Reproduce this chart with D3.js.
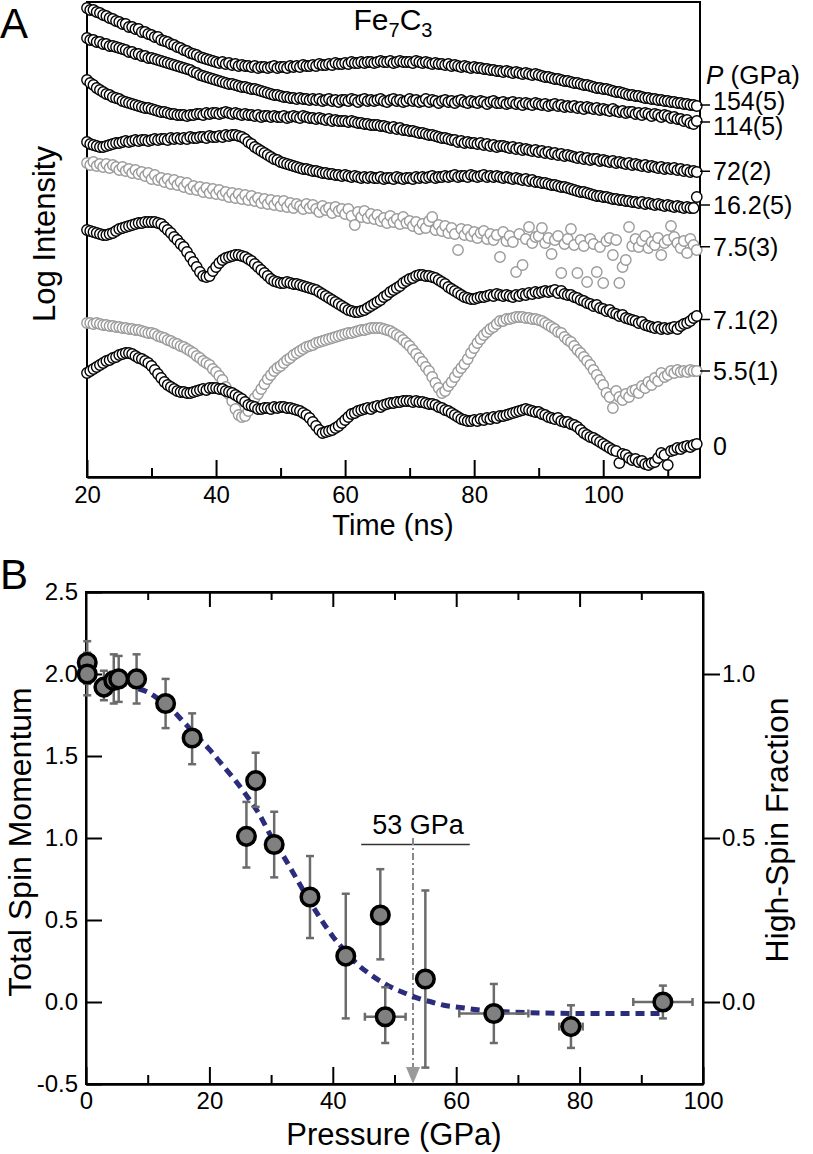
<!DOCTYPE html>
<html>
<head>
<meta charset="utf-8">
<script src="https://cdn.jsdelivr.net/npm/d3@7"></script>
<style>
body { margin: 0; background: #fff; }
svg { display: block; }
</style>
</head>
<body>
<script>
// ---- panel A : time spectra (log intensity, arbitrary offset units) ----
var times = d3.range(20, 114.75, 0.5);
var pressureLabels = ["154(5)", "114(5)", "72(2)", "16.2(5)", "7.5(3)", "7.1(2)", "5.5(1)", "0"];

var s154 = [46.9,46.7,46.7,46.5,46.4,46.2,46.1,45.9,45.8,45.6,
45.5,45.3,45.3,45.0,45.0,44.8,44.8,44.5,44.5,44.3,
44.2,44.0,44.0,43.7,43.6,43.5,43.3,43.2,43.0,42.9,
42.7,42.6,42.4,42.3,42.2,42.0,41.9,41.8,41.7,41.6,
41.5,41.4,41.5,41.3,41.4,41.2,41.3,41.1,41.2,41.1,
41.1,41.0,41.1,40.9,41.0,41.0,40.9,41.0,41.1,40.9,
41.0,41.0,40.9,41.1,41.0,41.1,41.0,41.2,41.1,41.1,
41.2,41.1,41.3,41.2,41.2,41.3,41.2,41.4,41.3,41.3,
41.4,41.3,41.5,41.4,41.4,41.5,41.4,41.5,41.5,41.4,
41.5,41.6,41.5,41.5,41.6,41.4,41.5,41.6,41.5,41.5,
41.5,41.4,41.6,41.5,41.4,41.5,41.4,41.3,41.4,41.3,
41.3,41.2,41.3,41.1,41.2,41.1,41.0,41.1,41.0,40.9,
41.0,40.9,40.9,40.8,40.8,40.7,40.7,40.6,40.6,40.5,
40.6,40.5,40.4,40.5,40.4,40.3,40.4,40.3,40.2,40.3,
40.2,40.1,40.0,40.0,39.9,39.8,39.8,39.7,39.6,39.6,
39.5,39.4,39.4,39.3,39.2,39.2,39.1,39.0,38.9,38.9,
38.8,38.8,38.7,38.6,38.5,38.5,38.4,38.3,38.2,38.2,
38.1,38.1,38.0,37.9,37.9,37.8,37.8,37.7,37.7,37.6,
37.6,37.5,37.5,37.4,37.4,37.3,37.3,37.2,37.2,37.1];

var s114 = [43.9,43.7,43.7,43.5,43.5,43.3,43.3,43.1,43.1,43.0,
42.9,42.8,42.7,42.5,42.5,42.3,42.3,42.1,42.1,41.9,
41.9,41.8,41.7,41.6,41.5,41.4,41.3,41.2,41.1,41.0,
40.9,40.8,40.7,40.5,40.4,40.2,40.1,40.0,39.9,39.8,
39.7,39.6,39.5,39.4,39.3,39.3,39.2,39.1,39.0,39.0,
38.9,38.8,38.8,38.7,38.6,38.5,38.4,38.3,38.2,38.2,
38.1,38.0,38.0,37.9,37.9,37.8,37.9,37.8,37.8,37.7,
37.8,37.7,37.8,37.6,37.7,37.8,37.6,37.7,37.5,37.7,
37.7,37.6,37.8,37.7,37.5,37.7,37.8,37.6,37.7,37.6,
37.7,37.8,37.6,37.5,37.7,37.8,37.6,37.7,37.5,37.6,
37.8,37.6,37.7,37.5,37.6,37.8,37.5,37.7,37.6,37.4,
37.6,37.7,37.5,37.6,37.4,37.6,37.7,37.5,37.4,37.6,
37.5,37.4,37.6,37.5,37.3,37.5,37.6,37.4,37.4,37.5,
37.3,37.4,37.5,37.3,37.4,37.2,37.4,37.3,37.2,37.4,
37.3,37.2,37.3,37.1,37.2,37.3,37.1,37.2,37.0,37.1,
37.0,37.1,36.9,37.0,36.8,37.0,36.9,36.8,36.9,36.7,
36.8,36.7,36.6,36.8,36.6,36.5,36.6,36.4,36.5,36.5,
36.3,36.4,36.2,36.4,36.3,36.1,36.3,36.2,36.0,36.2,
36.1,35.9,36.0,35.8,35.8,35.6,35.7,35.4,35.3,35.6];

var s72 = [39.7,39.4,39.2,38.9,38.7,38.5,38.3,38.2,38.0,37.9,
37.8,37.6,37.5,37.4,37.3,37.2,37.1,37.0,36.9,36.9,
36.8,36.7,36.6,36.5,36.5,36.4,36.3,36.3,36.2,36.2,
36.2,36.1,36.2,36.2,36.3,36.3,36.2,36.4,36.3,36.4,
36.4,36.3,36.4,36.5,36.4,36.3,36.4,36.3,36.2,36.3,
36.2,36.2,36.1,36.2,36.0,36.1,36.1,36.0,36.1,36.0,
36.0,36.1,35.9,36.0,36.1,36.0,35.9,36.1,36.0,35.9,
35.9,35.8,35.9,35.8,35.7,35.8,35.6,35.7,35.6,35.6,
35.6,35.5,35.6,35.5,35.4,35.4,35.3,35.3,35.2,35.2,
35.2,35.1,35.1,35.0,34.9,35.0,34.8,34.9,34.7,34.7,
34.6,34.6,34.5,34.4,34.4,34.3,34.2,34.2,34.1,34.0,
33.9,33.9,33.8,33.7,33.7,33.5,33.6,33.4,33.5,33.4,
33.4,33.3,33.4,33.2,33.3,33.1,33.2,33.0,33.1,33.1,
33.0,32.9,33.0,32.8,32.9,32.7,32.8,32.7,32.6,32.7,
32.5,32.6,32.4,32.5,32.3,32.4,32.2,32.3,32.1,32.2,
32.1,32.0,31.9,32.0,31.8,31.9,31.7,31.8,31.8,31.6,
31.7,31.6,31.5,31.6,31.4,31.5,31.4,31.3,31.4,31.2,
31.3,31.2,31.1,31.2,31.0,31.1,31.0,30.9,31.0,30.8,
30.9,30.8,30.9,30.7,30.8,30.6,30.7,30.5,30.6,30.5];

var s16 = [33.5,33.3,33.2,33.1,33.0,33.0,33.1,33.2,33.3,33.4,
33.4,33.5,33.6,33.5,33.6,33.7,33.6,33.7,33.7,33.6,
33.7,33.8,33.7,33.8,33.8,33.7,33.9,33.8,33.9,33.8,
33.9,33.8,34.0,33.9,33.9,34.0,34.0,33.9,34.1,34.0,
34.0,34.1,34.0,34.2,34.1,34.2,34.2,34.1,34.0,33.8,
33.5,33.3,33.0,32.8,32.6,32.4,32.2,32.0,31.8,31.7,
31.5,31.4,31.3,31.2,31.1,31.0,30.9,30.8,30.8,30.7,
30.6,30.6,30.5,30.4,30.4,30.3,30.3,30.2,30.2,30.1,
30.2,30.1,30.0,30.1,30.0,29.9,30.0,29.9,30.0,29.9,
29.9,30.0,29.8,29.9,29.9,29.8,30.0,29.9,29.8,29.9,
29.9,29.8,30.0,29.9,30.0,29.9,30.0,30.1,29.9,30.0,
30.0,30.1,30.0,30.1,30.2,30.0,30.1,30.1,30.0,30.2,
30.1,30.0,30.1,30.2,30.0,30.1,30.0,30.1,30.0,29.9,
30.0,29.9,29.8,29.9,29.8,29.7,29.8,29.6,29.7,29.5,
29.5,29.4,29.4,29.3,29.2,29.2,29.1,29.0,29.0,28.9,
28.8,28.7,28.6,28.5,28.5,28.4,28.3,28.2,28.1,28.1,
28.0,28.0,27.9,27.8,27.8,27.7,27.7,27.6,27.6,27.5,
27.5,27.4,27.5,27.3,27.4,27.3,27.2,27.3,27.2,27.1,
27.2,27.1,27.0,27.1,27.0,26.9,27.0,26.9,26.9,28.0];

var s75 = [31.4,31.2,31.5,31.1,31.3,31.0,31.3,30.9,31.2,31.0,
30.7,31.0,30.6,30.8,30.4,30.7,30.3,30.5,30.1,30.4,
29.8,30.2,29.7,29.9,29.5,29.8,29.3,29.7,29.2,29.5,
29.0,29.4,28.8,29.1,28.7,29.0,28.5,28.9,28.4,28.8,
28.3,28.7,28.2,28.5,28.0,28.4,27.9,28.3,27.8,28.2,
27.7,28.1,27.6,27.9,27.4,27.8,27.3,27.7,27.2,27.6,
27.1,27.6,27.0,27.4,26.9,27.3,27.1,26.8,27.3,26.9,
27.2,26.8,26.5,27.1,26.7,26.9,26.4,27.0,26.6,26.8,
26.3,26.8,26.1,25.2,26.5,26.0,26.6,25.9,26.3,25.8,
26.2,25.6,25.9,25.4,26.1,25.5,25.8,25.3,26.0,25.4,
25.6,25.1,25.5,24.8,25.3,24.9,25.6,26.0,24.7,25.2,
24.6,25.1,24.4,24.9,24.3,22.7,24.8,24.2,24.7,24.1,
24.5,23.9,24.4,24.6,23.8,24.3,23.7,24.2,22.0,24.5,
23.6,24.1,23.5,20.5,24.3,21.2,23.8,25.0,23.4,24.0,
24.1,24.9,23.4,23.9,22.3,23.7,24.1,20.4,23.3,23.8,
24.8,23.2,20.4,23.7,23.1,19.5,23.8,23.3,20.5,23.0,
19.4,23.6,23.9,22.2,23.7,19.4,21.0,21.7,25.0,23.1,
23.8,23.0,23.6,24.1,22.9,23.5,23.2,23.9,22.2,23.4,
23.7,25.1,24.0,23.4,22.9,23.6,22.4,23.8,23.2,22.7];

var s71 = [24.7,24.6,24.5,24.4,24.3,24.2,24.2,24.3,24.4,24.6,
24.8,24.9,25.0,25.1,25.2,25.3,25.4,25.4,25.5,25.5,
25.5,25.5,25.4,25.3,25.0,24.7,24.4,24.0,23.7,23.3,
23.0,22.5,22.0,21.5,21.0,20.5,20.1,20.0,20.1,20.6,
21.0,21.4,21.7,21.9,22.0,22.1,22.2,22.2,22.1,22.0,
21.8,21.6,21.3,21.0,20.7,20.4,20.1,19.8,19.6,19.5,
19.4,19.4,19.5,19.4,19.3,19.3,19.2,19.1,19.0,18.9,
18.8,18.7,18.5,18.3,18.1,17.9,17.7,17.5,17.3,17.1,
16.9,16.7,16.6,16.5,16.5,16.6,16.7,16.9,17.1,17.3,
17.5,17.7,18.0,18.2,18.5,18.7,18.9,19.1,19.4,19.6,
19.8,19.9,20.1,20.2,20.2,20.1,20.1,20.0,19.9,19.7,
19.5,19.3,19.0,18.8,18.6,18.4,18.2,18.0,17.9,17.8,
17.8,17.9,18.0,18.0,18.1,18.2,18.1,18.3,18.2,18.1,
18.2,18.1,18.0,18.2,18.1,18.3,18.2,18.4,18.3,18.5,
18.4,18.5,18.6,18.5,18.6,18.7,18.4,18.6,18.3,18.2,
18.2,18.0,17.9,17.7,17.6,17.4,17.3,17.1,17.2,16.9,
16.8,16.6,16.7,16.4,16.3,16.1,16.2,15.9,15.8,15.7,
15.6,15.4,15.5,15.2,15.1,15.0,14.9,15.0,14.8,14.9,
14.8,14.9,15.0,14.8,15.1,15.3,15.4,15.6,15.9,16.1];

var s55 = [15.4,15.4,15.3,15.4,15.3,15.2,15.2,15.1,15.1,15.0,
15.0,14.9,14.9,14.8,14.8,14.7,14.7,14.6,14.5,14.4,
14.4,14.3,14.1,14.0,13.9,13.7,13.6,13.4,13.3,13.1,
13.0,12.8,12.6,12.4,12.1,11.9,11.6,11.4,11.2,10.8,
10.5,10.1,9.7,9.0,8.3,7.6,6.8,6.2,6.0,6.1,
6.6,7.3,7.9,8.3,8.8,9.3,9.8,10.2,10.6,10.9,
11.1,11.4,11.7,11.9,12.2,12.4,12.6,12.8,13.0,13.1,
13.2,13.4,13.5,13.6,13.7,13.8,13.9,14.0,14.1,14.2,
14.3,14.4,14.4,14.5,14.6,14.7,14.7,14.8,14.9,14.9,
14.9,14.9,14.8,14.7,14.6,14.4,14.2,14.0,13.7,13.4,
13.1,12.7,12.3,11.9,11.5,11.0,10.6,10.0,9.4,8.9,
8.4,8.6,9.1,9.5,10.0,10.5,10.9,11.3,11.8,12.4,
12.9,13.4,13.8,14.2,14.5,14.8,15.0,15.3,15.6,15.6,
15.8,15.8,15.9,16.0,16.0,16.0,15.9,15.9,15.8,15.8,
15.7,15.6,15.4,15.2,15.0,14.8,14.5,14.4,14.0,13.7,
13.5,13.1,12.7,12.4,12.0,11.6,11.2,10.7,10.2,9.7,
9.2,8.4,8.0,6.9,8.6,8.0,7.7,8.3,8.0,8.6,
8.7,8.4,9.1,8.9,9.5,9.2,9.9,9.6,10.4,10.0,
10.2,10.6,10.4,10.7,10.5,10.6,10.5,10.7,10.6,10.6];

var s0 = [10.4,10.6,10.8,11.0,11.2,11.4,11.6,11.7,11.9,12.0,
12.2,12.3,12.4,12.4,12.3,12.1,11.9,11.8,11.6,11.4,
11.1,10.7,10.3,9.9,9.5,9.2,9.0,8.8,8.6,8.5,
8.5,8.4,8.4,8.5,8.6,8.7,8.8,8.7,8.9,8.9,
8.9,8.8,8.8,8.6,8.5,8.4,8.2,8.0,7.8,7.5,
7.2,7.1,7.0,6.8,6.8,6.9,6.9,6.8,7.0,6.9,
7.0,7.0,6.9,6.9,6.8,6.7,6.6,6.4,6.2,5.9,
5.5,5.1,4.7,4.4,4.5,4.6,4.7,4.9,5.1,5.4,
5.7,6.0,6.3,6.4,6.6,6.7,6.8,6.9,6.8,7.0,
7.1,7.0,7.2,7.3,7.4,7.4,7.5,7.5,7.6,7.6,
7.6,7.5,7.6,7.5,7.5,7.4,7.3,7.3,7.2,7.0,
6.9,6.7,6.6,6.4,6.2,6.0,5.8,5.7,5.6,5.6,
5.7,5.6,5.8,5.7,5.9,5.8,6.0,5.9,6.1,6.1,
6.2,6.3,6.4,6.5,6.6,6.7,6.8,6.7,6.6,6.5,
6.5,6.3,6.2,6.0,5.9,5.8,5.9,5.6,5.5,5.5,
5.3,5.2,5.0,4.7,4.4,4.2,4.0,3.9,3.7,3.5,
3.3,3.1,2.9,2.7,2.6,1.4,2.3,2.2,1.9,1.7,
1.8,1.5,1.6,1.3,1.2,1.4,1.5,1.9,2.4,2.2,
1.2,2.6,2.7,2.9,2.8,3.0,3.1,3.0,3.2,3.3];

var timeMajorTicks = [20, 40, 60, 80, 100];
var timeMinorTicks = [30, 50, 70, 90, 110];

// ---- panel B : total spin momentum vs pressure ----
var pressure = [0.2, 0.2, 2.9, 4.5, 5.3, 8.2, 12.9, 17.2, 26.0, 27.5, 30.5, 36.3, 42.1, 47.7, 48.5, 55.0, 66.1, 78.6, 93.5];
var spin = [2.07, 2.00, 1.92, 1.96, 1.97, 1.97, 1.82, 1.61, 1.01, 1.35, 0.96, 0.64, 0.28, 0.53, -0.09, 0.14, -0.07, -0.15, 0.00];
var spinLow = [1.94, 1.87, 1.84, 1.82, 1.83, 1.82, 1.67, 1.45, 0.82, 1.19, 0.76, 0.39, -0.10, 0.26, -0.25, -0.40, -0.25, -0.28, -0.10];
var spinHigh = [2.20, 2.13, 2.02, 2.12, 2.11, 2.12, 1.97, 1.76, 1.22, 1.52, 1.16, 0.89, 0.66, 0.81, 0.09, 0.68, 0.11, -0.02, 0.10];
var pressureErr = [0, 0, 0, 0, 0, 0, 0, 0, 0, 0, 0, 0, 0, 0, 3.3, 0, 5.6, 1.9, 4.8];

var fitPressure = [8.5, 10, 12, 14, 16, 18, 20, 22, 24, 26, 28, 30, 32, 34, 36, 38, 40, 42, 44, 46, 48, 50, 52, 54, 56, 58, 60, 64, 68, 72, 80, 93];
var fitSpin = [1.91, 1.89, 1.84, 1.78, 1.70, 1.62, 1.54, 1.45, 1.36, 1.26, 1.15, 1.01, 0.89, 0.76, 0.63, 0.51, 0.40, 0.31, 0.23, 0.17, 0.12, 0.08, 0.05, 0.02, 0.00, -0.02, -0.03, -0.05, -0.06, -0.065, -0.07, -0.07];

var transitionP = 53;
var transitionRange = [44.6, 62.2];
var spinTicks = [-0.5, 0, 0.5, 1.0, 1.5, 2.0, 2.5];
var fractionTicks = [0, 0.5, 1.0];
var pressureMajorTicks = [0, 20, 40, 60, 80, 100];
var pressureMinorTicks = [10, 30, 50, 70, 90];

var Figure;
(function (Figure) {
    var FONT = "'Liberation Sans', Arial, Helvetica, sans-serif";
    var Chart = (function () {
        function Chart() {
        }
        Chart.prototype.styleAxis = function (sel, size) {
            sel.select(".domain").attr("stroke", "#000").attr("stroke-width", 2);
            sel.selectAll(".tick line").attr("stroke", "#000").attr("stroke-width", 2);
            sel.selectAll(".tick text")
                .attr("fill", "#000")
                .style("font-family", FONT)
                .style("font-size", size + "px");
        };
        Chart.prototype.panelA = function (svg) {
            var x = d3.scaleLinear().domain([20, 115]).range([87, 700]);
            var y = d3.scaleLinear().domain([0, 47.5]).range([477, 2]);
            var g = svg.append("g");

            var series = [s154, s114, s72, s16, s75, s71, s55, s0].map(function (vals, i) {
                return { label: pressureLabels[i], values: vals };
            });
            var grayCurves = ["7.5(3)", "5.5(1)"];

            g.append("rect")
                .attr("x", 87)
                .attr("y", 2)
                .attr("width", 613)
                .attr("height", 475)
                .attr("fill", "none")
                .attr("stroke", "#000")
                .attr("stroke-width", 2);

            var minor = g.append("g")
                .attr("transform", "translate(0,477)")
                .call(d3.axisBottom(x).tickValues(timeMinorTicks).tickSizeInner(-9).tickSizeOuter(0).tickFormat(""));
            this.styleAxis(minor, 24);
            var major = g.append("g")
                .attr("transform", "translate(0,477)")
                .call(d3.axisBottom(x).tickValues(timeMajorTicks).tickSizeInner(-17).tickSizeOuter(0).tickPadding(9));
            this.styleAxis(major, 24);

            series.forEach(function (s) {
                var gray = grayCurves.indexOf(s.label) >= 0;
                g.append("g").selectAll("circle")
                    .data(s.values)
                    .enter().append("circle")
                    .attr("cx", function (d, i) { return x(times[i]); })
                    .attr("cy", function (d) { return y(d); })
                    .attr("r", 5.2)
                    .attr("fill", "#fff")
                    .attr("stroke", gray ? "#9a9a9a" : "#000")
                    .attr("stroke-width", 1.4);
            });

            // label rows at the end of each curve, pushed apart where they crowd
            var rows = series.map(function (s) {
                var py = y(d3.mean(s.values.slice(-4)));
                return { label: s.label, tickY: py, textY: py };
            });
            for (var k = 1; k < rows.length; k++) {
                var gap = rows[k].textY - rows[k - 1].textY;
                if (gap < 25) {
                    rows[k - 1].textY -= (25 - gap) / 2;
                    rows[k].textY += (25 - gap) / 2;
                }
            }
            rows.forEach(function (r) {
                if (r.label !== "0") {
                    g.append("line")
                        .attr("x1", 700)
                        .attr("x2", 710)
                        .attr("y1", r.tickY)
                        .attr("y2", r.tickY)
                        .attr("stroke", "#000")
                        .attr("stroke-width", 1.5);
                }
                g.append("text")
                    .attr("x", 713)
                    .attr("y", r.textY)
                    .attr("dy", "0.36em")
                    .style("font-family", FONT)
                    .style("font-size", "25px")
                    .text(r.label);
            });

            var p = g.append("text")
                .attr("x", 706)
                .attr("y", 84)
                .style("font-family", FONT)
                .style("font-size", "26px");
            p.append("tspan").style("font-style", "italic").text("P");
            p.append("tspan").text(" (GPa)");

            var t = g.append("text")
                .attr("x", 393)
                .attr("y", 30)
                .attr("text-anchor", "middle")
                .style("font-family", FONT)
                .style("font-size", "30px");
            t.append("tspan").text("Fe");
            t.append("tspan").attr("dy", 7).style("font-size", "20px").text("7");
            t.append("tspan").attr("dy", -7).text("C");
            t.append("tspan").attr("dy", 7).style("font-size", "20px").text("3");

            g.append("text")
                .attr("transform", "translate(55,234) rotate(-90)")
                .attr("text-anchor", "middle")
                .style("font-family", FONT)
                .style("font-size", "31px")
                .text("Log Intensity");
            g.append("text")
                .attr("x", 393)
                .attr("y", 535)
                .attr("text-anchor", "middle")
                .style("font-family", FONT)
                .style("font-size", "29px")
                .text("Time (ns)");
            g.append("text")
                .attr("x", 0)
                .attr("y", 38)
                .style("font-family", FONT)
                .style("font-size", "42px")
                .text("A");
        };
        Chart.prototype.panelB = function (svg) {
            var x = d3.scaleLinear().domain([0, 100]).range([86, 703]);
            var y = d3.scaleLinear().domain([-0.5, 2.5]).range([1084, 592]);
            var y2 = d3.scaleLinear().domain([-0.25, 1.25]).range([1084, 592]);
            var g = svg.append("g");
            var fmt = function (d) { return d.toFixed(1); };

            g.append("rect")
                .attr("x", 86)
                .attr("y", 592)
                .attr("width", 617)
                .attr("height", 492)
                .attr("fill", "none")
                .attr("stroke", "#000")
                .attr("stroke-width", 2);

            var a;
            a = g.append("g").attr("transform", "translate(0,1084)")
                .call(d3.axisBottom(x).tickValues(pressureMinorTicks).tickSizeInner(-9).tickSizeOuter(0).tickFormat(""));
            this.styleAxis(a, 24);
            a = g.append("g").attr("transform", "translate(0,1084)")
                .call(d3.axisBottom(x).tickValues(pressureMajorTicks).tickSizeInner(-17).tickSizeOuter(0).tickPadding(8));
            this.styleAxis(a, 24);
            a = g.append("g").attr("transform", "translate(0,592)")
                .call(d3.axisTop(x).tickValues(pressureMinorTicks).tickSizeInner(-8).tickSizeOuter(0).tickFormat(""));
            this.styleAxis(a, 24);
            a = g.append("g").attr("transform", "translate(0,592)")
                .call(d3.axisTop(x).tickValues(pressureMajorTicks.slice(1, -1)).tickSizeInner(-15).tickSizeOuter(0).tickFormat(""));
            this.styleAxis(a, 24);
            a = g.append("g").attr("transform", "translate(86,0)")
                .call(d3.axisLeft(y).tickValues(spinTicks).tickSizeInner(-16).tickSizeOuter(0).tickPadding(8).tickFormat(fmt));
            this.styleAxis(a, 24);
            a = g.append("g").attr("transform", "translate(703,0)")
                .call(d3.axisRight(y2).tickValues(fractionTicks).tickSizeInner(17).tickSizeOuter(0).tickPadding(2).tickFormat(fmt));
            this.styleAxis(a, 24);

            // transition marker
            var annotY = 0.96;
            g.append("line")
                .attr("x1", x(transitionRange[0]))
                .attr("x2", x(transitionRange[1]))
                .attr("y1", y(annotY))
                .attr("y2", y(annotY))
                .attr("stroke", "#333")
                .attr("stroke-width", 1.6);
            g.append("text")
                .attr("x", x(transitionP) + 5)
                .attr("y", y(annotY) - 11)
                .attr("text-anchor", "middle")
                .style("font-family", FONT)
                .style("font-size", "27px")
                .text(transitionP + " GPa");
            g.append("line")
                .attr("x1", x(transitionP))
                .attr("x2", x(transitionP))
                .attr("y1", y(annotY + 0.04))
                .attr("y2", y(-0.4))
                .attr("stroke", "#888")
                .attr("stroke-width", 2)
                .attr("stroke-dasharray", "7,3,2,3");
            var ax = x(transitionP), ay = y(-0.5);
            g.append("path")
                .attr("d", "M" + (ax - 7) + "," + (ay - 17) + "L" + (ax + 7) + "," + (ay - 17) + "L" + ax + "," + ay + "Z")
                .attr("fill", "#9a9a9a");

            // fit
            var line = d3.line()
                .x(function (d, i) { return x(fitPressure[i]); })
                .y(function (d) { return y(d); })
                .curve(d3.curveMonotoneX);
            g.append("path")
                .attr("d", line(fitSpin))
                .attr("fill", "none")
                .attr("stroke", "#2c2c7c")
                .attr("stroke-width", 5)
                .attr("stroke-dasharray", "9,6");

            var pts = pressure.map(function (p, i) {
                return { p: p, s: spin[i], lo: spinLow[i], hi: spinHigh[i], pe: pressureErr[i] };
            });
            var eb = g.append("g")
                .attr("stroke", "#6b6b6b")
                .attr("stroke-width", 2.5);
            pts.forEach(function (d) {
                var cx = x(d.p);
                eb.append("line").attr("x1", cx).attr("x2", cx).attr("y1", y(d.lo)).attr("y2", y(d.hi));
                eb.append("line").attr("x1", cx - 4).attr("x2", cx + 4).attr("y1", y(d.lo)).attr("y2", y(d.lo));
                eb.append("line").attr("x1", cx - 4).attr("x2", cx + 4).attr("y1", y(d.hi)).attr("y2", y(d.hi));
                if (d.pe > 0) {
                    var cy = y(d.s);
                    eb.append("line").attr("x1", x(d.p - d.pe)).attr("x2", x(d.p + d.pe)).attr("y1", cy).attr("y2", cy);
                    eb.append("line").attr("x1", x(d.p - d.pe)).attr("x2", x(d.p - d.pe)).attr("y1", cy - 4).attr("y2", cy + 4);
                    eb.append("line").attr("x1", x(d.p + d.pe)).attr("x2", x(d.p + d.pe)).attr("y1", cy - 4).attr("y2", cy + 4);
                }
            });
            g.append("g").selectAll("circle")
                .data(pts)
                .enter().append("circle")
                .attr("cx", function (d) { return x(d.p); })
                .attr("cy", function (d) { return y(d.s); })
                .attr("r", 8.8)
                .attr("fill", "#808080")
                .attr("stroke", "#000")
                .attr("stroke-width", 3.5);

            g.append("text")
                .attr("transform", "translate(31,842) rotate(-90)")
                .attr("text-anchor", "middle")
                .style("font-family", FONT)
                .style("font-size", "32px")
                .text("Total Spin Momentum");
            g.append("text")
                .attr("transform", "translate(788,830) rotate(-90)")
                .attr("text-anchor", "middle")
                .style("font-family", FONT)
                .style("font-size", "32px")
                .text("High-Spin Fraction");
            g.append("text")
                .attr("x", 394)
                .attr("y", 1145)
                .attr("text-anchor", "middle")
                .style("font-family", FONT)
                .style("font-size", "31px")
                .text("Pressure (GPa)");
            g.append("text")
                .attr("x", 0)
                .attr("y", 589)
                .style("font-family", FONT)
                .style("font-size", "42px")
                .text("B");
        };
        Chart.prototype.run = function () {
            var svg = d3.select("body")
                .append("svg")
                .attr("width", 813)
                .attr("height", 1154);
            svg.append("rect").attr("width", 813).attr("height", 1154).attr("fill", "#fff");
            this.panelA(svg);
            this.panelB(svg);
        };
        return Chart;
    }());
    Figure.Chart = Chart;
})(Figure || (Figure = {}));
new Figure.Chart().run();
</script>
</body>
</html>
